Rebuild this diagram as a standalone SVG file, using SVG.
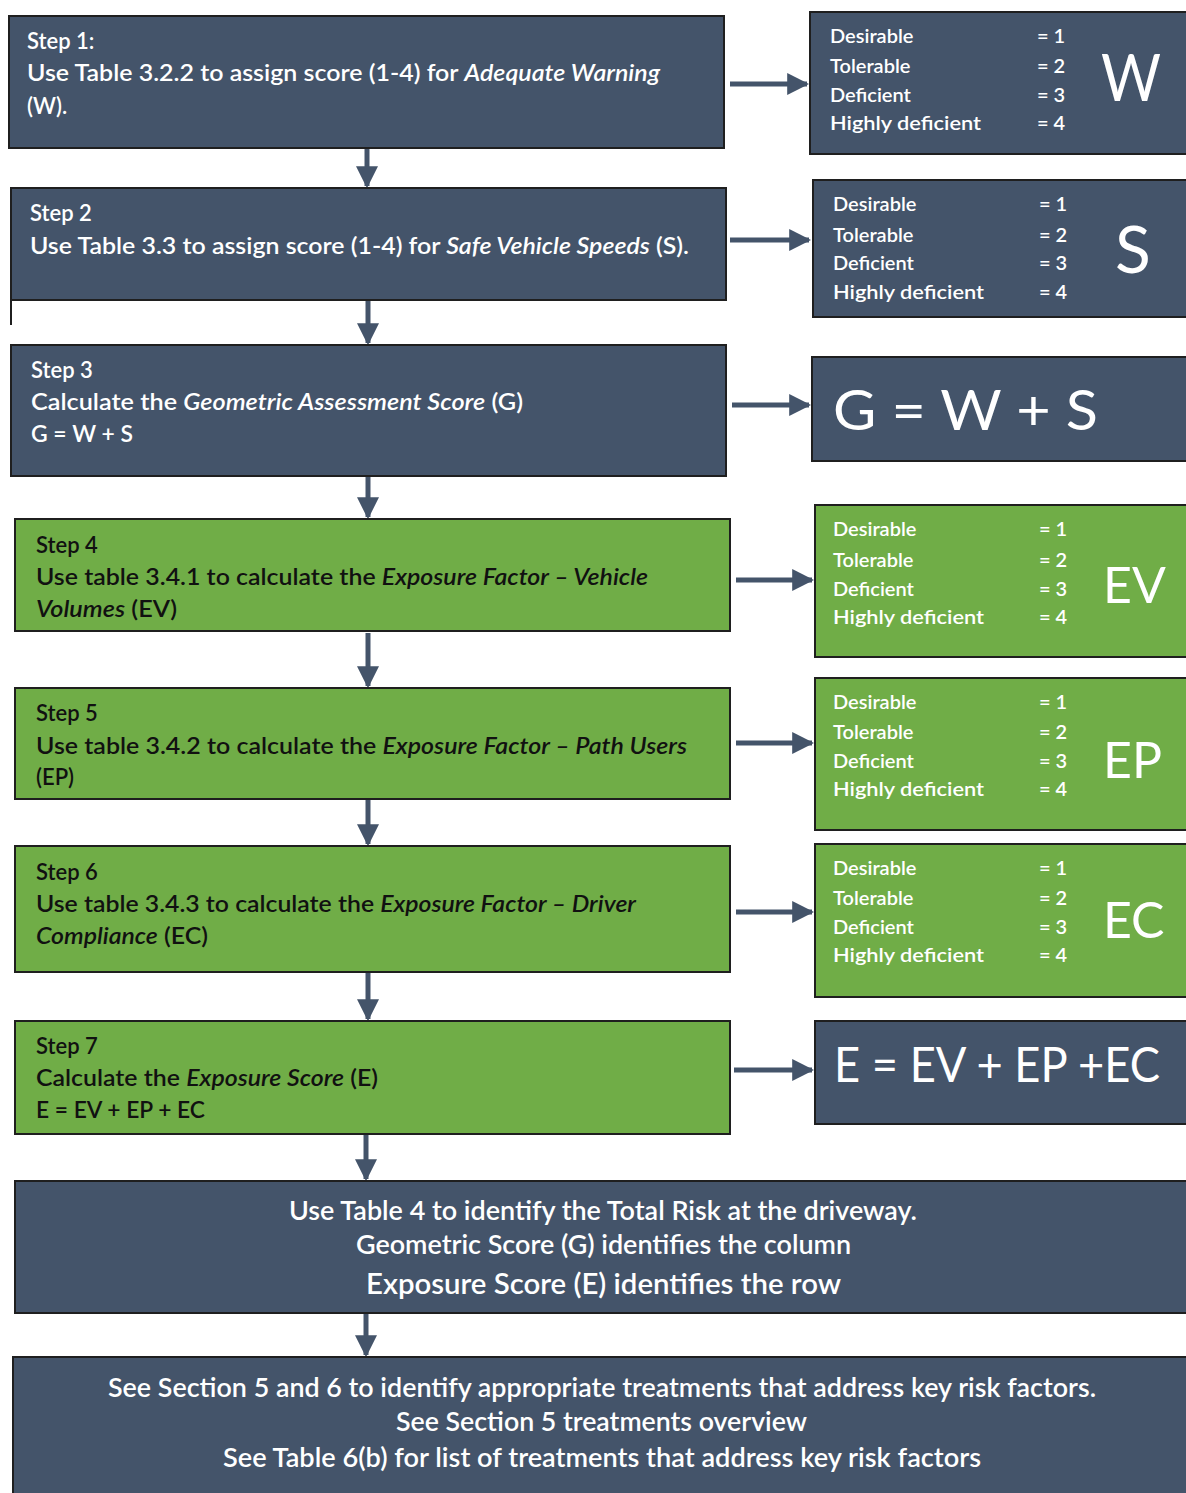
<svg xmlns="http://www.w3.org/2000/svg" width="1186" height="1493" viewBox="0 0 1186 1493">
<style>
.slate{fill:#44546A;stroke:#1f1f1f;stroke-width:2}
.green{fill:#70AD47;stroke:#1f1f1f;stroke-width:2}
text{font-family:Lato,"Liberation Sans",sans-serif}
.w{fill:#ffffff}
.d{fill:#111111}
.s{font-size:22px;font-weight:600}
.l{font-size:20px;font-weight:600}
.b{font-weight:600}
.i{font-style:italic}
.big{font-size:56px}
.mid{font-size:50px}
.conn{stroke:#44546A;stroke-width:5;fill:none}
</style>
<defs>
<marker id="ah" viewBox="0 0 10 10" refX="9" refY="5" markerWidth="4.4" markerHeight="4.4" orient="auto" markerUnits="strokeWidth">
<path d="M0,0 L10,5 L0,10 Z" fill="#44546A"/>
</marker>
</defs>
<rect width="1186" height="1493" fill="#ffffff"/>

<g id="connectors">
<line class="conn" x1="367" y1="149" x2="367" y2="186" marker-end="url(#ah)"/>
<line class="conn" x1="368" y1="301" x2="368" y2="343" marker-end="url(#ah)"/>
<line class="conn" x1="368" y1="477" x2="368" y2="517" marker-end="url(#ah)"/>
<line class="conn" x1="368" y1="633" x2="368" y2="686" marker-end="url(#ah)"/>
<line class="conn" x1="368" y1="800" x2="368" y2="844" marker-end="url(#ah)"/>
<line class="conn" x1="368" y1="973" x2="368" y2="1019" marker-end="url(#ah)"/>
<line class="conn" x1="366" y1="1135" x2="366" y2="1179" marker-end="url(#ah)"/>
<line class="conn" x1="366" y1="1314" x2="366" y2="1355" marker-end="url(#ah)"/>
<line class="conn" x1="730" y1="84" x2="807" y2="84" marker-end="url(#ah)"/>
<line class="conn" x1="730" y1="240" x2="809" y2="240" marker-end="url(#ah)"/>
<line class="conn" x1="732" y1="405" x2="809" y2="405" marker-end="url(#ah)"/>
<line class="conn" x1="736" y1="580" x2="812" y2="580" marker-end="url(#ah)"/>
<line class="conn" x1="736" y1="743" x2="812" y2="743" marker-end="url(#ah)"/>
<line class="conn" x1="736" y1="912" x2="812" y2="912" marker-end="url(#ah)"/>
<line class="conn" x1="734" y1="1070" x2="812" y2="1070" marker-end="url(#ah)"/>
</g>

<g id="step1">
<rect class="slate" x="9" y="16" width="715" height="132"/>
<text class="w s" x="27" y="49">Step 1:</text>
<text class="w s" x="27" y="81" textLength="633" lengthAdjust="spacingAndGlyphs">Use Table 3.2.2 to assign score (1-4) for <tspan class="i">Adequate Warning</tspan></text>
<text class="w s" x="27" y="114">(W).</text>
</g>

<g id="step2">
<rect class="slate" x="11" y="188" width="715" height="112"/>
<line x1="11" y1="300" x2="11" y2="325" stroke="#1f1f1f" stroke-width="2"/>
<text class="w s" x="30" y="221">Step 2</text>
<text class="w s" x="30" y="254" textLength="659" lengthAdjust="spacingAndGlyphs">Use Table 3.3 to assign score (1-4) for <tspan class="i">Safe Vehicle Speeds</tspan> (S).</text>
</g>

<g id="step3">
<rect class="slate" x="11" y="345" width="715" height="131"/>
<text class="w s" x="31" y="378">Step 3</text>
<text class="w s" x="31" y="410" textLength="492" lengthAdjust="spacingAndGlyphs">Calculate the <tspan class="i">Geometric Assessment Score</tspan> (G)</text>
<text class="w s" x="31" y="442" textLength="102" lengthAdjust="spacingAndGlyphs">G = W + S</text>
</g>

<g id="step4">
<rect class="green" x="15" y="519" width="715" height="112"/>
<text class="d s" x="36" y="553">Step 4</text>
<text class="d s" x="36" y="585" textLength="612" lengthAdjust="spacingAndGlyphs">Use table 3.4.1 to calculate the <tspan class="i">Exposure Factor – Vehicle</tspan></text>
<text class="d s" x="36" y="617" textLength="141" lengthAdjust="spacingAndGlyphs"><tspan class="i">Volumes</tspan> (EV)</text>
</g>

<g id="step5">
<rect class="green" x="15" y="688" width="715" height="111"/>
<text class="d s" x="36" y="721">Step 5</text>
<text class="d s" x="36" y="754" textLength="651" lengthAdjust="spacingAndGlyphs">Use table 3.4.2 to calculate the <tspan class="i">Exposure Factor – Path Users</tspan></text>
<text class="d s" x="36" y="785">(EP)</text>
</g>

<g id="step6">
<rect class="green" x="15" y="846" width="715" height="126"/>
<text class="d s" x="36" y="880">Step 6</text>
<text class="d s" x="36" y="912" textLength="600" lengthAdjust="spacingAndGlyphs">Use table 3.4.3 to calculate the <tspan class="i">Exposure Factor – Driver</tspan></text>
<text class="d s" x="36" y="944" textLength="172" lengthAdjust="spacingAndGlyphs"><tspan class="i">Compliance</tspan> (EC)</text>
</g>

<g id="step7">
<rect class="green" x="15" y="1021" width="715" height="113"/>
<text class="d s" x="36" y="1054">Step 7</text>
<text class="d s" x="36" y="1086" textLength="342" lengthAdjust="spacingAndGlyphs">Calculate the <tspan class="i">Exposure Score</tspan> (E)</text>
<text class="d s" x="36" y="1118" textLength="169" lengthAdjust="spacingAndGlyphs">E = EV + EP + EC</text>
</g>

<g id="scoreW">
<rect class="slate" x="810" y="12" width="380" height="142"/>
<text class="w l" x="830" y="43">Desirable</text>
<text class="w l" x="830" y="73">Tolerable</text>
<text class="w l" x="830" y="102">Deficient</text>
<text class="w l" x="830" y="130" textLength="151" lengthAdjust="spacingAndGlyphs">Highly deficient</text>
<text class="w l" x="1037" y="43">= 1</text>
<text class="w l" x="1037" y="73">= 2</text>
<text class="w l" x="1037" y="102">= 3</text>
<text class="w l" x="1037" y="130">= 4</text>
<text class="w" x="1101" y="101" font-size="66" textLength="60" lengthAdjust="spacingAndGlyphs">W</text>
</g>

<g id="scoreS">
<rect class="slate" x="813" y="180" width="377" height="137"/>
<text class="w l" x="833" y="211">Desirable</text>
<text class="w l" x="833" y="242">Tolerable</text>
<text class="w l" x="833" y="270">Deficient</text>
<text class="w l" x="833" y="299" textLength="151" lengthAdjust="spacingAndGlyphs">Highly deficient</text>
<text class="w l" x="1039" y="211">= 1</text>
<text class="w l" x="1039" y="242">= 2</text>
<text class="w l" x="1039" y="270">= 3</text>
<text class="w l" x="1039" y="299">= 4</text>
<text class="w" x="1115" y="273" font-size="66">S</text>
</g>

<g id="formulaG">
<rect class="slate" x="812" y="357" width="378" height="104"/>
<text class="w big" x="833" y="430" textLength="265" lengthAdjust="spacingAndGlyphs">G = W + S</text>
</g>

<g id="scoreEV">
<rect class="green" x="815" y="505" width="375" height="152"/>
<text class="w l" x="833" y="536">Desirable</text>
<text class="w l" x="833" y="567">Tolerable</text>
<text class="w l" x="833" y="596">Deficient</text>
<text class="w l" x="833" y="624" textLength="151" lengthAdjust="spacingAndGlyphs">Highly deficient</text>
<text class="w l" x="1039" y="536">= 1</text>
<text class="w l" x="1039" y="567">= 2</text>
<text class="w l" x="1039" y="596">= 3</text>
<text class="w l" x="1039" y="624">= 4</text>
<text class="w mid" x="1103" y="603">EV</text>
</g>

<g id="scoreEP">
<rect class="green" x="815" y="678" width="375" height="152"/>
<text class="w l" x="833" y="709">Desirable</text>
<text class="w l" x="833" y="739">Tolerable</text>
<text class="w l" x="833" y="768">Deficient</text>
<text class="w l" x="833" y="796" textLength="151" lengthAdjust="spacingAndGlyphs">Highly deficient</text>
<text class="w l" x="1039" y="709">= 1</text>
<text class="w l" x="1039" y="739">= 2</text>
<text class="w l" x="1039" y="768">= 3</text>
<text class="w l" x="1039" y="796">= 4</text>
<text class="w mid" x="1103" y="778">EP</text>
</g>

<g id="scoreEC">
<rect class="green" x="815" y="844" width="375" height="153"/>
<text class="w l" x="833" y="875">Desirable</text>
<text class="w l" x="833" y="905">Tolerable</text>
<text class="w l" x="833" y="934">Deficient</text>
<text class="w l" x="833" y="962" textLength="151" lengthAdjust="spacingAndGlyphs">Highly deficient</text>
<text class="w l" x="1039" y="875">= 1</text>
<text class="w l" x="1039" y="905">= 2</text>
<text class="w l" x="1039" y="934">= 3</text>
<text class="w l" x="1039" y="962">= 4</text>
<text class="w mid" x="1103" y="938">EC</text>
</g>

<g id="formulaE">
<rect class="slate" x="815" y="1021" width="375" height="103"/>
<text class="w" x="834" y="1082" font-size="48" textLength="326" lengthAdjust="spacingAndGlyphs">E = EV + EP +EC</text>
</g>

<g id="totalRisk">
<rect class="slate" x="15" y="1181" width="1175" height="132"/>
<text class="w b" x="289" y="1220" font-size="26" textLength="628" lengthAdjust="spacingAndGlyphs">Use Table 4 to identify the Total Risk at the driveway.</text>
<text class="w b" x="356" y="1254" font-size="26" textLength="495" lengthAdjust="spacingAndGlyphs">Geometric Score (G) identifies the column</text>
<text class="w b" x="366" y="1294" font-size="28" textLength="475" lengthAdjust="spacingAndGlyphs">Exposure Score (E) identifies the row</text>
</g>

<g id="treatments">
<rect class="slate" x="13" y="1357" width="1177" height="140"/>
<text class="w b" x="108" y="1397" font-size="26" textLength="988" lengthAdjust="spacingAndGlyphs">See Section 5 and 6 to identify appropriate treatments that address key risk factors.</text>
<text class="w b" x="396" y="1431" font-size="26" textLength="411" lengthAdjust="spacingAndGlyphs">See Section 5 treatments overview</text>
<text class="w b" x="223" y="1467" font-size="26" textLength="758" lengthAdjust="spacingAndGlyphs">See Table 6(b) for list of treatments that address key risk factors</text>
</g>
</svg>
